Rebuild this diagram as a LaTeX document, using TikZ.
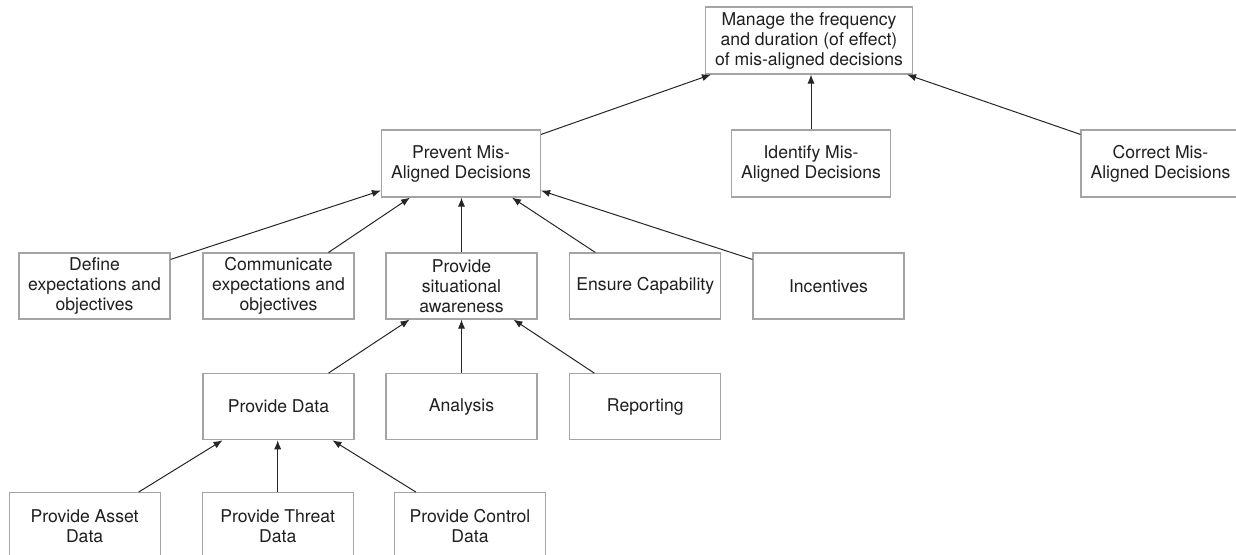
\documentclass[tikz,border=0pt]{standalone}
\usepackage{fontspec}
\setmainfont{TeX Gyre Heros}
\usetikzlibrary{arrows.meta}
\definecolor{boxgray}{HTML}{A4A4A4}
\definecolor{linegray}{HTML}{262626}
\begin{document}
\begin{tikzpicture}[x=0.5pt, y=-0.5pt,
        goalbox/.style={draw=boxgray, line width=0.6pt, align=center, inner sep=0pt,
            font=\fontsize{8.8}{10}\selectfont, text=black!88,
            minimum width=75.5pt, minimum height=33pt},
        topbox/.style={goalbox, minimum width=79.5pt, minimum height=33.5pt},
        rootbox/.style={goalbox, minimum width=103.5pt, minimum height=33.5pt},
        link/.style={draw=linegray, line width=0.5pt, -{Latex[length=4.5pt, width=3.6pt]}}]
            \clip (0, 0) rectangle (1236, 554);
            % root
            \node[rootbox] (man) at (809, 40.5) {Manage the frequency\\and duration (of effect)\\of mis-aligned decisions};
            % first level
            \node[topbox] (prev) at (461, 163.5) {Prevent Mis-\\Aligned Decisions};
            \node[topbox] (ide) at (811, 163.5) {Identify Mis-\\Aligned Decisions};
            \node[topbox] (cor) at (1160.5, 163.5) {Correct Mis-\\Aligned Decisions};
            % second level
            \node[goalbox] (def) at (94.5, 286) {Define\\expectations and\\objectives};
            \node[goalbox] (com) at (278.5, 286) {Communicate\\expectations and\\objectives};
            \node[goalbox] (sit) at (461.5, 286) {Provide\\situational\\awareness};
            \node[goalbox] (ens) at (645.3, 286) {Ensure Capability};
            \node[goalbox] (inc) at (828.5, 286) {Incentives};
            % third level
            \node[goalbox] (pd) at (278.5, 406.7) {Provide Data};
            \node[goalbox] (ana) at (461.5, 406.7) {Analysis};
            \node[goalbox] (rep) at (645.3, 406.7) {Reporting};
            % fourth level
            \node[goalbox] (ast) at (84.6, 525.7) {Provide Asset\\Data};
            \node[goalbox] (thr) at (277.7, 525.7) {Provide Threat\\Data};
            \node[goalbox] (ctl) at (470, 525.7) {Provide Control\\Data};
            % arrows
            \draw[link] ([yshift=-2.5pt]prev.north east) -- ([xshift=3pt]man.south west);
            \draw[link] (ide.north) -- (ide.north |- man.south);
            \draw[link] ([yshift=-2.5pt]cor.north west) -- ([xshift=-3pt]man.south east);
            \draw[link] ([yshift=-3.5pt]def.north east) -- ([yshift=3.5pt]prev.south west);
            \draw[link] ([xshift=25pt]com.north) -- ([xshift=-25.5pt]prev.south);
            \draw[link] (sit.north) -- (sit.north |- prev.south);
            \draw[link] ([xshift=-25pt]ens.north) -- ([xshift=25.5pt]prev.south);
            \draw[link] ([yshift=-3.5pt]inc.north west) -- ([yshift=3.5pt]prev.south east);
            \draw[link] ([xshift=25pt]pd.north) -- ([xshift=-26pt]sit.south);
            \draw[link] (ana.north) -- (sit.south);
            \draw[link] ([xshift=-25.5pt]rep.north) -- ([xshift=26pt]sit.south);
            \draw[link] ([xshift=27pt]ast.north) -- ([xshift=-28pt]pd.south);
            \draw[link] (thr.north) -- (thr.north |- pd.south);
            \draw[link] ([xshift=-27pt]ctl.north) -- ([xshift=27pt]pd.south);
\end{tikzpicture}
\end{document}
